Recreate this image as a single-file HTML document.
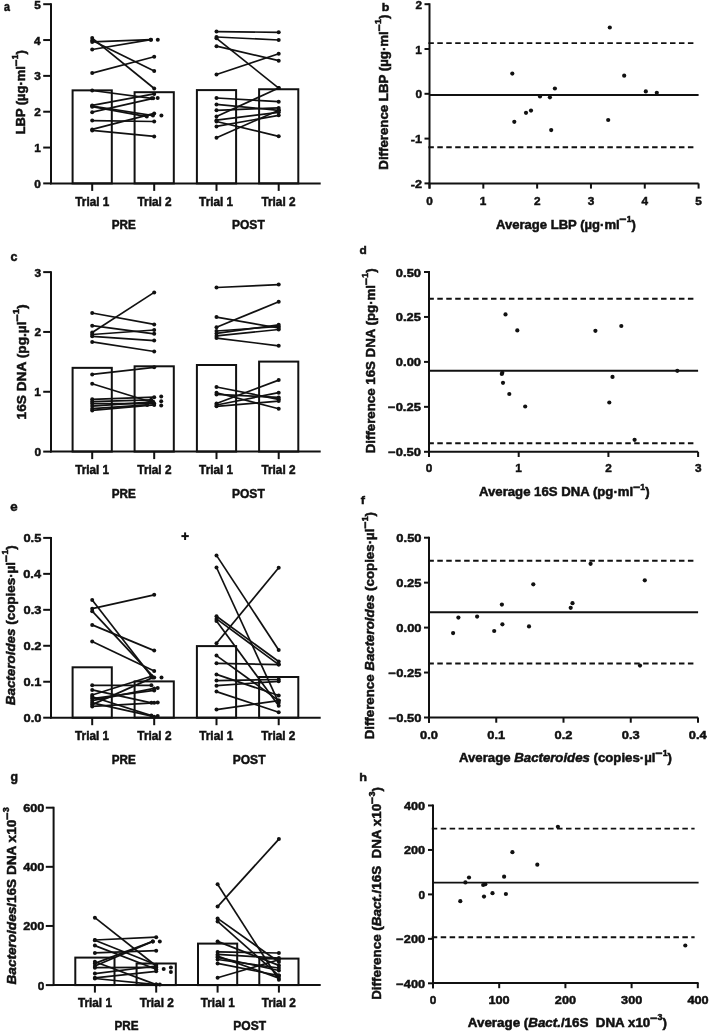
<!DOCTYPE html>
<html><head><meta charset="utf-8"><style>
html,body{margin:0;padding:0;background:#fff;}
body{width:709px;height:1031px;overflow:hidden;}
svg{display:block;filter:blur(0.35px);}
text{font-family:"Liberation Sans",sans-serif;font-weight:bold;}
</style></head><body>
<svg width="709" height="1031" viewBox="0 0 709 1031">
<rect width="709" height="1031" fill="#fff"/>
<g stroke="#111" fill="#111" stroke-linecap="butt">
<line x1="51.00" y1="3.30" x2="51.00" y2="184.30" stroke-width="2.0" />
<line x1="50.10" y1="183.40" x2="320.70" y2="183.40" stroke-width="2.0" />
<line x1="43.20" y1="183.40" x2="51.00" y2="183.40" stroke-width="2.0" />
<text x="34.32" y="187.90" textLength="6.56" lengthAdjust="spacingAndGlyphs" stroke-width="0.5" ><tspan font-size="11.8">0</tspan></text>
<line x1="43.20" y1="147.56" x2="51.00" y2="147.56" stroke-width="2.0" />
<text x="34.17" y="152.06" textLength="6.56" lengthAdjust="spacingAndGlyphs" stroke-width="0.5" ><tspan font-size="11.8">1</tspan></text>
<line x1="43.20" y1="111.72" x2="51.00" y2="111.72" stroke-width="2.0" />
<text x="34.31" y="116.22" textLength="6.56" lengthAdjust="spacingAndGlyphs" stroke-width="0.5" ><tspan font-size="11.8">2</tspan></text>
<line x1="43.20" y1="75.88" x2="51.00" y2="75.88" stroke-width="2.0" />
<text x="34.26" y="80.38" textLength="6.56" lengthAdjust="spacingAndGlyphs" stroke-width="0.5" ><tspan font-size="11.8">3</tspan></text>
<line x1="43.20" y1="40.04" x2="51.00" y2="40.04" stroke-width="2.0" />
<text x="33.90" y="44.54" textLength="6.56" lengthAdjust="spacingAndGlyphs" stroke-width="0.5" ><tspan font-size="11.8">4</tspan></text>
<line x1="43.20" y1="4.20" x2="51.00" y2="4.20" stroke-width="2.0" />
<text x="34.17" y="8.70" textLength="6.56" lengthAdjust="spacingAndGlyphs" stroke-width="0.5" ><tspan font-size="11.8">5</tspan></text>
<rect x="72.60" y="90.35" width="39.2" height="93.05" fill="none" stroke-width="2.0"/>
<rect x="134.60" y="92.20" width="39.2" height="91.20" fill="none" stroke-width="2.0"/>
<rect x="196.90" y="90.10" width="39.2" height="93.30" fill="none" stroke-width="2.0"/>
<rect x="259.10" y="89.25" width="39.2" height="94.15" fill="none" stroke-width="2.0"/>
<line x1="92.20" y1="183.40" x2="92.20" y2="190.90" stroke-width="2.0" />
<line x1="154.20" y1="183.40" x2="154.20" y2="190.90" stroke-width="2.0" />
<line x1="216.50" y1="183.40" x2="216.50" y2="190.90" stroke-width="2.0" />
<line x1="278.70" y1="183.40" x2="278.70" y2="190.90" stroke-width="2.0" />
<line x1="92.20" y1="38.10" x2="154.20" y2="88.50" stroke-width="1.7" />
<line x1="92.20" y1="40.60" x2="154.20" y2="71.00" stroke-width="1.7" />
<line x1="92.20" y1="41.90" x2="150.90" y2="39.70" stroke-width="1.7" />
<line x1="92.20" y1="49.50" x2="150.90" y2="39.70" stroke-width="1.7" />
<line x1="92.20" y1="73.10" x2="154.20" y2="56.70" stroke-width="1.7" />
<line x1="92.20" y1="90.50" x2="151.80" y2="98.30" stroke-width="1.7" />
<line x1="92.20" y1="105.40" x2="154.20" y2="93.90" stroke-width="1.7" />
<line x1="92.20" y1="106.70" x2="146.80" y2="116.60" stroke-width="1.7" />
<line x1="92.20" y1="112.20" x2="153.20" y2="98.30" stroke-width="1.7" />
<line x1="92.20" y1="120.60" x2="154.20" y2="121.50" stroke-width="1.7" />
<line x1="92.20" y1="129.40" x2="154.20" y2="113.40" stroke-width="1.7" />
<line x1="92.20" y1="130.40" x2="154.20" y2="136.40" stroke-width="1.7" />
<line x1="92.20" y1="106.00" x2="153.00" y2="115.60" stroke-width="1.7" />
<circle cx="92.20" cy="38.10" r="2.0" stroke="none"/>
<circle cx="154.20" cy="88.50" r="2.0" stroke="none"/>
<circle cx="92.20" cy="40.60" r="2.0" stroke="none"/>
<circle cx="154.20" cy="71.00" r="2.0" stroke="none"/>
<circle cx="92.20" cy="41.90" r="2.0" stroke="none"/>
<circle cx="150.90" cy="39.70" r="2.0" stroke="none"/>
<circle cx="92.20" cy="49.50" r="2.0" stroke="none"/>
<circle cx="150.90" cy="39.70" r="2.0" stroke="none"/>
<circle cx="92.20" cy="73.10" r="2.0" stroke="none"/>
<circle cx="154.20" cy="56.70" r="2.0" stroke="none"/>
<circle cx="92.20" cy="90.50" r="2.0" stroke="none"/>
<circle cx="151.80" cy="98.30" r="2.0" stroke="none"/>
<circle cx="92.20" cy="105.40" r="2.0" stroke="none"/>
<circle cx="154.20" cy="93.90" r="2.0" stroke="none"/>
<circle cx="92.20" cy="106.70" r="2.0" stroke="none"/>
<circle cx="146.80" cy="116.60" r="2.0" stroke="none"/>
<circle cx="92.20" cy="112.20" r="2.0" stroke="none"/>
<circle cx="153.20" cy="98.30" r="2.0" stroke="none"/>
<circle cx="92.20" cy="120.60" r="2.0" stroke="none"/>
<circle cx="154.20" cy="121.50" r="2.0" stroke="none"/>
<circle cx="92.20" cy="129.40" r="2.0" stroke="none"/>
<circle cx="154.20" cy="113.40" r="2.0" stroke="none"/>
<circle cx="92.20" cy="130.40" r="2.0" stroke="none"/>
<circle cx="154.20" cy="136.40" r="2.0" stroke="none"/>
<circle cx="92.20" cy="106.00" r="2.0" stroke="none"/>
<circle cx="153.00" cy="115.60" r="2.0" stroke="none"/>
<line x1="216.50" y1="31.60" x2="278.70" y2="32.30" stroke-width="1.7" />
<line x1="216.50" y1="37.00" x2="278.70" y2="40.00" stroke-width="1.7" />
<line x1="216.50" y1="38.30" x2="278.70" y2="88.10" stroke-width="1.7" />
<line x1="216.50" y1="46.20" x2="278.70" y2="60.70" stroke-width="1.7" />
<line x1="216.50" y1="74.50" x2="278.70" y2="53.80" stroke-width="1.7" />
<line x1="216.50" y1="98.00" x2="278.70" y2="101.70" stroke-width="1.7" />
<line x1="216.50" y1="104.40" x2="278.70" y2="110.30" stroke-width="1.7" />
<line x1="216.50" y1="110.30" x2="278.70" y2="107.90" stroke-width="1.7" />
<line x1="216.50" y1="116.50" x2="278.70" y2="88.10" stroke-width="1.7" />
<line x1="216.50" y1="120.20" x2="278.70" y2="112.30" stroke-width="1.7" />
<line x1="216.50" y1="121.50" x2="278.70" y2="136.30" stroke-width="1.7" />
<line x1="216.50" y1="126.40" x2="278.70" y2="115.30" stroke-width="1.7" />
<line x1="216.50" y1="137.70" x2="278.70" y2="110.30" stroke-width="1.7" />
<circle cx="216.50" cy="31.60" r="2.0" stroke="none"/>
<circle cx="278.70" cy="32.30" r="2.0" stroke="none"/>
<circle cx="216.50" cy="37.00" r="2.0" stroke="none"/>
<circle cx="278.70" cy="40.00" r="2.0" stroke="none"/>
<circle cx="216.50" cy="38.30" r="2.0" stroke="none"/>
<circle cx="278.70" cy="88.10" r="2.0" stroke="none"/>
<circle cx="216.50" cy="46.20" r="2.0" stroke="none"/>
<circle cx="278.70" cy="60.70" r="2.0" stroke="none"/>
<circle cx="216.50" cy="74.50" r="2.0" stroke="none"/>
<circle cx="278.70" cy="53.80" r="2.0" stroke="none"/>
<circle cx="216.50" cy="98.00" r="2.0" stroke="none"/>
<circle cx="278.70" cy="101.70" r="2.0" stroke="none"/>
<circle cx="216.50" cy="104.40" r="2.0" stroke="none"/>
<circle cx="278.70" cy="110.30" r="2.0" stroke="none"/>
<circle cx="216.50" cy="110.30" r="2.0" stroke="none"/>
<circle cx="278.70" cy="107.90" r="2.0" stroke="none"/>
<circle cx="216.50" cy="116.50" r="2.0" stroke="none"/>
<circle cx="278.70" cy="88.10" r="2.0" stroke="none"/>
<circle cx="216.50" cy="120.20" r="2.0" stroke="none"/>
<circle cx="278.70" cy="112.30" r="2.0" stroke="none"/>
<circle cx="216.50" cy="121.50" r="2.0" stroke="none"/>
<circle cx="278.70" cy="136.30" r="2.0" stroke="none"/>
<circle cx="216.50" cy="126.40" r="2.0" stroke="none"/>
<circle cx="278.70" cy="115.30" r="2.0" stroke="none"/>
<circle cx="216.50" cy="137.70" r="2.0" stroke="none"/>
<circle cx="278.70" cy="110.30" r="2.0" stroke="none"/>
<circle cx="157.80" cy="39.70" r="2.0" stroke="none"/>
<circle cx="157.70" cy="97.90" r="2.0" stroke="none"/>
<circle cx="161.40" cy="115.40" r="2.0" stroke="none"/>
<text x="75.32" y="205.80" textLength="33.95" lengthAdjust="spacingAndGlyphs" stroke-width="0.5" ><tspan font-size="12.3">Trial 1</tspan></text>
<text x="137.52" y="205.80" textLength="34.09" lengthAdjust="spacingAndGlyphs" stroke-width="0.5" ><tspan font-size="12.3">Trial 2</tspan></text>
<text x="199.12" y="205.80" textLength="33.95" lengthAdjust="spacingAndGlyphs" stroke-width="0.5" ><tspan font-size="12.3">Trial 1</tspan></text>
<text x="261.42" y="205.80" textLength="34.09" lengthAdjust="spacingAndGlyphs" stroke-width="0.5" ><tspan font-size="12.3">Trial 2</tspan></text>
<text x="111.72" y="229.40" textLength="24.04" lengthAdjust="spacingAndGlyphs" stroke-width="0.5" ><tspan font-size="12.8">PRE</tspan></text>
<text x="232.00" y="229.40" textLength="32.73" lengthAdjust="spacingAndGlyphs" stroke-width="0.5" ><tspan font-size="12.8">POST</tspan></text>
<text transform="translate(24.90,133.40) rotate(-90)" x="-0.86" y="0" textLength="84.10" lengthAdjust="spacingAndGlyphs" stroke-width="0.5" ><tspan font-size="12.6">LBP (µg·ml</tspan><tspan font-size="11.8" dy="-5.2">−</tspan><tspan font-size="8.4" dy="-1.5">1</tspan><tspan font-size="12.6" dy="6.7">)</tspan></text>
<line x1="51.00" y1="271.21" x2="51.00" y2="452.50" stroke-width="2.0" />
<line x1="50.10" y1="451.60" x2="320.70" y2="451.60" stroke-width="2.0" />
<line x1="43.20" y1="451.60" x2="51.00" y2="451.60" stroke-width="2.0" />
<text x="34.52" y="456.10" textLength="6.56" lengthAdjust="spacingAndGlyphs" stroke-width="0.5" ><tspan font-size="11.8">0</tspan></text>
<line x1="43.20" y1="391.77" x2="51.00" y2="391.77" stroke-width="2.0" />
<text x="34.37" y="396.27" textLength="6.56" lengthAdjust="spacingAndGlyphs" stroke-width="0.5" ><tspan font-size="11.8">1</tspan></text>
<line x1="43.20" y1="331.94" x2="51.00" y2="331.94" stroke-width="2.0" />
<text x="34.51" y="336.44" textLength="6.56" lengthAdjust="spacingAndGlyphs" stroke-width="0.5" ><tspan font-size="11.8">2</tspan></text>
<line x1="43.20" y1="272.11" x2="51.00" y2="272.11" stroke-width="2.0" />
<text x="34.46" y="276.61" textLength="6.56" lengthAdjust="spacingAndGlyphs" stroke-width="0.5" ><tspan font-size="11.8">3</tspan></text>
<rect x="72.60" y="367.85" width="39.2" height="83.75" fill="none" stroke-width="2.0"/>
<rect x="134.60" y="366.30" width="39.2" height="85.30" fill="none" stroke-width="2.0"/>
<rect x="196.90" y="365.00" width="39.2" height="86.60" fill="none" stroke-width="2.0"/>
<rect x="259.10" y="361.60" width="39.2" height="90.00" fill="none" stroke-width="2.0"/>
<line x1="92.20" y1="451.60" x2="92.20" y2="459.10" stroke-width="2.0" />
<line x1="154.20" y1="451.60" x2="154.20" y2="459.10" stroke-width="2.0" />
<line x1="216.50" y1="451.60" x2="216.50" y2="459.10" stroke-width="2.0" />
<line x1="278.70" y1="451.60" x2="278.70" y2="459.10" stroke-width="2.0" />
<line x1="92.20" y1="313.00" x2="154.20" y2="324.40" stroke-width="1.7" />
<line x1="92.20" y1="325.70" x2="154.20" y2="333.80" stroke-width="1.7" />
<line x1="92.20" y1="332.50" x2="154.20" y2="292.40" stroke-width="1.7" />
<line x1="92.20" y1="334.50" x2="154.20" y2="330.00" stroke-width="1.7" />
<line x1="92.20" y1="336.30" x2="154.20" y2="340.60" stroke-width="1.7" />
<line x1="92.20" y1="341.90" x2="154.20" y2="351.50" stroke-width="1.7" />
<line x1="92.20" y1="374.40" x2="154.20" y2="367.30" stroke-width="1.7" />
<line x1="92.20" y1="383.80" x2="150.20" y2="401.80" stroke-width="1.7" />
<line x1="92.20" y1="399.30" x2="154.20" y2="397.20" stroke-width="1.7" />
<line x1="92.20" y1="401.60" x2="151.20" y2="399.80" stroke-width="1.7" />
<line x1="92.20" y1="403.60" x2="154.20" y2="403.60" stroke-width="1.7" />
<line x1="92.20" y1="406.10" x2="153.20" y2="401.80" stroke-width="1.7" />
<line x1="92.20" y1="408.70" x2="147.20" y2="404.90" stroke-width="1.7" />
<line x1="92.20" y1="410.40" x2="154.20" y2="404.90" stroke-width="1.7" />
<circle cx="92.20" cy="313.00" r="2.0" stroke="none"/>
<circle cx="154.20" cy="324.40" r="2.0" stroke="none"/>
<circle cx="92.20" cy="325.70" r="2.0" stroke="none"/>
<circle cx="154.20" cy="333.80" r="2.0" stroke="none"/>
<circle cx="92.20" cy="332.50" r="2.0" stroke="none"/>
<circle cx="154.20" cy="292.40" r="2.0" stroke="none"/>
<circle cx="92.20" cy="334.50" r="2.0" stroke="none"/>
<circle cx="154.20" cy="330.00" r="2.0" stroke="none"/>
<circle cx="92.20" cy="336.30" r="2.0" stroke="none"/>
<circle cx="154.20" cy="340.60" r="2.0" stroke="none"/>
<circle cx="92.20" cy="341.90" r="2.0" stroke="none"/>
<circle cx="154.20" cy="351.50" r="2.0" stroke="none"/>
<circle cx="92.20" cy="374.40" r="2.0" stroke="none"/>
<circle cx="154.20" cy="367.30" r="2.0" stroke="none"/>
<circle cx="92.20" cy="383.80" r="2.0" stroke="none"/>
<circle cx="150.20" cy="401.80" r="2.0" stroke="none"/>
<circle cx="92.20" cy="399.30" r="2.0" stroke="none"/>
<circle cx="154.20" cy="397.20" r="2.0" stroke="none"/>
<circle cx="92.20" cy="401.60" r="2.0" stroke="none"/>
<circle cx="151.20" cy="399.80" r="2.0" stroke="none"/>
<circle cx="92.20" cy="403.60" r="2.0" stroke="none"/>
<circle cx="154.20" cy="403.60" r="2.0" stroke="none"/>
<circle cx="92.20" cy="406.10" r="2.0" stroke="none"/>
<circle cx="153.20" cy="401.80" r="2.0" stroke="none"/>
<circle cx="92.20" cy="408.70" r="2.0" stroke="none"/>
<circle cx="147.20" cy="404.90" r="2.0" stroke="none"/>
<circle cx="92.20" cy="410.40" r="2.0" stroke="none"/>
<circle cx="154.20" cy="404.90" r="2.0" stroke="none"/>
<line x1="216.50" y1="287.50" x2="278.70" y2="284.60" stroke-width="1.7" />
<line x1="216.50" y1="317.10" x2="278.70" y2="328.00" stroke-width="1.7" />
<line x1="216.50" y1="327.30" x2="278.70" y2="301.80" stroke-width="1.7" />
<line x1="216.50" y1="331.00" x2="278.70" y2="326.50" stroke-width="1.7" />
<line x1="216.50" y1="333.40" x2="278.70" y2="324.80" stroke-width="1.7" />
<line x1="216.50" y1="335.90" x2="278.70" y2="329.50" stroke-width="1.7" />
<line x1="216.50" y1="338.10" x2="278.70" y2="345.80" stroke-width="1.7" />
<line x1="216.50" y1="387.00" x2="278.70" y2="399.30" stroke-width="1.7" />
<line x1="216.50" y1="392.70" x2="278.70" y2="408.70" stroke-width="1.7" />
<line x1="216.50" y1="394.40" x2="278.70" y2="397.40" stroke-width="1.7" />
<line x1="216.50" y1="403.50" x2="278.70" y2="380.10" stroke-width="1.7" />
<line x1="216.50" y1="405.00" x2="278.70" y2="392.70" stroke-width="1.7" />
<line x1="216.50" y1="406.30" x2="278.70" y2="401.10" stroke-width="1.7" />
<circle cx="216.50" cy="287.50" r="2.0" stroke="none"/>
<circle cx="278.70" cy="284.60" r="2.0" stroke="none"/>
<circle cx="216.50" cy="317.10" r="2.0" stroke="none"/>
<circle cx="278.70" cy="328.00" r="2.0" stroke="none"/>
<circle cx="216.50" cy="327.30" r="2.0" stroke="none"/>
<circle cx="278.70" cy="301.80" r="2.0" stroke="none"/>
<circle cx="216.50" cy="331.00" r="2.0" stroke="none"/>
<circle cx="278.70" cy="326.50" r="2.0" stroke="none"/>
<circle cx="216.50" cy="333.40" r="2.0" stroke="none"/>
<circle cx="278.70" cy="324.80" r="2.0" stroke="none"/>
<circle cx="216.50" cy="335.90" r="2.0" stroke="none"/>
<circle cx="278.70" cy="329.50" r="2.0" stroke="none"/>
<circle cx="216.50" cy="338.10" r="2.0" stroke="none"/>
<circle cx="278.70" cy="345.80" r="2.0" stroke="none"/>
<circle cx="216.50" cy="387.00" r="2.0" stroke="none"/>
<circle cx="278.70" cy="399.30" r="2.0" stroke="none"/>
<circle cx="216.50" cy="392.70" r="2.0" stroke="none"/>
<circle cx="278.70" cy="408.70" r="2.0" stroke="none"/>
<circle cx="216.50" cy="394.40" r="2.0" stroke="none"/>
<circle cx="278.70" cy="397.40" r="2.0" stroke="none"/>
<circle cx="216.50" cy="403.50" r="2.0" stroke="none"/>
<circle cx="278.70" cy="380.10" r="2.0" stroke="none"/>
<circle cx="216.50" cy="405.00" r="2.0" stroke="none"/>
<circle cx="278.70" cy="392.70" r="2.0" stroke="none"/>
<circle cx="216.50" cy="406.30" r="2.0" stroke="none"/>
<circle cx="278.70" cy="401.10" r="2.0" stroke="none"/>
<circle cx="161.20" cy="396.50" r="2.0" stroke="none"/>
<circle cx="161.20" cy="401.20" r="2.0" stroke="none"/>
<circle cx="161.20" cy="405.40" r="2.0" stroke="none"/>
<text x="75.17" y="474.20" textLength="33.95" lengthAdjust="spacingAndGlyphs" stroke-width="0.5" ><tspan font-size="12.3">Trial 1</tspan></text>
<text x="137.37" y="474.20" textLength="34.09" lengthAdjust="spacingAndGlyphs" stroke-width="0.5" ><tspan font-size="12.3">Trial 2</tspan></text>
<text x="199.12" y="474.20" textLength="33.95" lengthAdjust="spacingAndGlyphs" stroke-width="0.5" ><tspan font-size="12.3">Trial 1</tspan></text>
<text x="261.42" y="474.20" textLength="34.09" lengthAdjust="spacingAndGlyphs" stroke-width="0.5" ><tspan font-size="12.3">Trial 2</tspan></text>
<text x="111.72" y="497.70" textLength="24.04" lengthAdjust="spacingAndGlyphs" stroke-width="0.5" ><tspan font-size="12.8">PRE</tspan></text>
<text x="232.00" y="497.70" textLength="32.73" lengthAdjust="spacingAndGlyphs" stroke-width="0.5" ><tspan font-size="12.8">POST</tspan></text>
<text transform="translate(25.80,418.60) rotate(-90)" x="-0.86" y="0" textLength="115.14" lengthAdjust="spacingAndGlyphs" stroke-width="0.5" ><tspan font-size="12.6">16S DNA (pg.µl</tspan><tspan font-size="11.8" dy="-5.2">−</tspan><tspan font-size="8.4" dy="-1.5">1</tspan><tspan font-size="12.6" dy="6.7">)</tspan></text>
<line x1="51.00" y1="537.00" x2="51.00" y2="718.60" stroke-width="2.0" />
<line x1="50.10" y1="717.70" x2="320.70" y2="717.70" stroke-width="2.0" />
<line x1="43.20" y1="717.70" x2="51.00" y2="717.70" stroke-width="2.0" />
<text x="23.64" y="722.20" textLength="17.89" lengthAdjust="spacingAndGlyphs" stroke-width="0.5" ><tspan font-size="11.8">0.0</tspan></text>
<line x1="43.20" y1="681.74" x2="51.00" y2="681.74" stroke-width="2.0" />
<text x="23.48" y="686.24" textLength="17.87" lengthAdjust="spacingAndGlyphs" stroke-width="0.5" ><tspan font-size="11.8">0.1</tspan></text>
<line x1="43.20" y1="645.78" x2="51.00" y2="645.78" stroke-width="2.0" />
<text x="23.63" y="650.28" textLength="17.89" lengthAdjust="spacingAndGlyphs" stroke-width="0.5" ><tspan font-size="11.8">0.2</tspan></text>
<line x1="43.20" y1="609.82" x2="51.00" y2="609.82" stroke-width="2.0" />
<text x="23.58" y="614.32" textLength="17.88" lengthAdjust="spacingAndGlyphs" stroke-width="0.5" ><tspan font-size="11.8">0.3</tspan></text>
<line x1="43.20" y1="573.86" x2="51.00" y2="573.86" stroke-width="2.0" />
<text x="23.22" y="578.36" textLength="17.85" lengthAdjust="spacingAndGlyphs" stroke-width="0.5" ><tspan font-size="11.8">0.4</tspan></text>
<line x1="43.20" y1="537.90" x2="51.00" y2="537.90" stroke-width="2.0" />
<text x="23.48" y="542.40" textLength="17.87" lengthAdjust="spacingAndGlyphs" stroke-width="0.5" ><tspan font-size="11.8">0.5</tspan></text>
<rect x="72.60" y="667.30" width="39.2" height="50.40" fill="none" stroke-width="2.0"/>
<rect x="134.60" y="681.40" width="39.2" height="36.30" fill="none" stroke-width="2.0"/>
<rect x="196.90" y="646.10" width="39.2" height="71.60" fill="none" stroke-width="2.0"/>
<rect x="259.10" y="677.00" width="39.2" height="40.70" fill="none" stroke-width="2.0"/>
<line x1="92.20" y1="717.70" x2="92.20" y2="725.20" stroke-width="2.0" />
<line x1="154.20" y1="717.70" x2="154.20" y2="725.20" stroke-width="2.0" />
<line x1="216.50" y1="717.70" x2="216.50" y2="725.20" stroke-width="2.0" />
<line x1="278.70" y1="717.70" x2="278.70" y2="725.20" stroke-width="2.0" />
<line x1="92.20" y1="608.70" x2="154.20" y2="594.80" stroke-width="1.7" />
<line x1="92.20" y1="599.90" x2="151.40" y2="676.30" stroke-width="1.7" />
<line x1="92.20" y1="611.20" x2="154.20" y2="677.60" stroke-width="1.7" />
<line x1="92.20" y1="624.90" x2="154.20" y2="650.60" stroke-width="1.7" />
<line x1="92.20" y1="641.60" x2="154.20" y2="671.10" stroke-width="1.7" />
<line x1="92.20" y1="685.30" x2="151.40" y2="685.30" stroke-width="1.7" />
<line x1="92.20" y1="689.90" x2="151.40" y2="702.80" stroke-width="1.7" />
<line x1="92.20" y1="695.00" x2="151.40" y2="676.30" stroke-width="1.7" />
<line x1="92.20" y1="696.80" x2="151.40" y2="715.60" stroke-width="1.7" />
<line x1="92.20" y1="698.60" x2="154.20" y2="690.40" stroke-width="1.7" />
<line x1="92.20" y1="700.70" x2="154.20" y2="688.40" stroke-width="1.7" />
<line x1="92.20" y1="702.80" x2="154.20" y2="716.70" stroke-width="1.7" />
<line x1="92.20" y1="704.60" x2="152.70" y2="677.60" stroke-width="1.7" />
<line x1="92.20" y1="706.40" x2="154.20" y2="702.80" stroke-width="1.7" />
<circle cx="92.20" cy="608.70" r="2.0" stroke="none"/>
<circle cx="154.20" cy="594.80" r="2.0" stroke="none"/>
<circle cx="92.20" cy="599.90" r="2.0" stroke="none"/>
<circle cx="151.40" cy="676.30" r="2.0" stroke="none"/>
<circle cx="92.20" cy="611.20" r="2.0" stroke="none"/>
<circle cx="154.20" cy="677.60" r="2.0" stroke="none"/>
<circle cx="92.20" cy="624.90" r="2.0" stroke="none"/>
<circle cx="154.20" cy="650.60" r="2.0" stroke="none"/>
<circle cx="92.20" cy="641.60" r="2.0" stroke="none"/>
<circle cx="154.20" cy="671.10" r="2.0" stroke="none"/>
<circle cx="92.20" cy="685.30" r="2.0" stroke="none"/>
<circle cx="151.40" cy="685.30" r="2.0" stroke="none"/>
<circle cx="92.20" cy="689.90" r="2.0" stroke="none"/>
<circle cx="151.40" cy="702.80" r="2.0" stroke="none"/>
<circle cx="92.20" cy="695.00" r="2.0" stroke="none"/>
<circle cx="151.40" cy="676.30" r="2.0" stroke="none"/>
<circle cx="92.20" cy="696.80" r="2.0" stroke="none"/>
<circle cx="151.40" cy="715.60" r="2.0" stroke="none"/>
<circle cx="92.20" cy="698.60" r="2.0" stroke="none"/>
<circle cx="154.20" cy="690.40" r="2.0" stroke="none"/>
<circle cx="92.20" cy="700.70" r="2.0" stroke="none"/>
<circle cx="154.20" cy="688.40" r="2.0" stroke="none"/>
<circle cx="92.20" cy="702.80" r="2.0" stroke="none"/>
<circle cx="154.20" cy="716.70" r="2.0" stroke="none"/>
<circle cx="92.20" cy="704.60" r="2.0" stroke="none"/>
<circle cx="152.70" cy="677.60" r="2.0" stroke="none"/>
<circle cx="92.20" cy="706.40" r="2.0" stroke="none"/>
<circle cx="154.20" cy="702.80" r="2.0" stroke="none"/>
<line x1="216.50" y1="555.40" x2="278.70" y2="650.00" stroke-width="1.7" />
<line x1="216.50" y1="567.50" x2="278.70" y2="702.70" stroke-width="1.7" />
<line x1="216.50" y1="643.30" x2="278.70" y2="567.70" stroke-width="1.7" />
<line x1="216.50" y1="616.30" x2="278.70" y2="661.50" stroke-width="1.7" />
<line x1="216.50" y1="618.90" x2="278.70" y2="664.60" stroke-width="1.7" />
<line x1="216.50" y1="620.90" x2="278.70" y2="705.70" stroke-width="1.7" />
<line x1="216.50" y1="655.60" x2="278.70" y2="700.60" stroke-width="1.7" />
<line x1="216.50" y1="663.30" x2="278.70" y2="664.60" stroke-width="1.7" />
<line x1="216.50" y1="674.40" x2="278.70" y2="695.50" stroke-width="1.7" />
<line x1="216.50" y1="680.60" x2="278.70" y2="679.50" stroke-width="1.7" />
<line x1="216.50" y1="685.70" x2="278.70" y2="681.30" stroke-width="1.7" />
<line x1="216.50" y1="691.60" x2="278.70" y2="712.20" stroke-width="1.7" />
<line x1="216.50" y1="709.60" x2="278.70" y2="700.60" stroke-width="1.7" />
<circle cx="216.50" cy="555.40" r="2.0" stroke="none"/>
<circle cx="278.70" cy="650.00" r="2.0" stroke="none"/>
<circle cx="216.50" cy="567.50" r="2.0" stroke="none"/>
<circle cx="278.70" cy="702.70" r="2.0" stroke="none"/>
<circle cx="216.50" cy="643.30" r="2.0" stroke="none"/>
<circle cx="278.70" cy="567.70" r="2.0" stroke="none"/>
<circle cx="216.50" cy="616.30" r="2.0" stroke="none"/>
<circle cx="278.70" cy="661.50" r="2.0" stroke="none"/>
<circle cx="216.50" cy="618.90" r="2.0" stroke="none"/>
<circle cx="278.70" cy="664.60" r="2.0" stroke="none"/>
<circle cx="216.50" cy="620.90" r="2.0" stroke="none"/>
<circle cx="278.70" cy="705.70" r="2.0" stroke="none"/>
<circle cx="216.50" cy="655.60" r="2.0" stroke="none"/>
<circle cx="278.70" cy="700.60" r="2.0" stroke="none"/>
<circle cx="216.50" cy="663.30" r="2.0" stroke="none"/>
<circle cx="278.70" cy="664.60" r="2.0" stroke="none"/>
<circle cx="216.50" cy="674.40" r="2.0" stroke="none"/>
<circle cx="278.70" cy="695.50" r="2.0" stroke="none"/>
<circle cx="216.50" cy="680.60" r="2.0" stroke="none"/>
<circle cx="278.70" cy="679.50" r="2.0" stroke="none"/>
<circle cx="216.50" cy="685.70" r="2.0" stroke="none"/>
<circle cx="278.70" cy="681.30" r="2.0" stroke="none"/>
<circle cx="216.50" cy="691.60" r="2.0" stroke="none"/>
<circle cx="278.70" cy="712.20" r="2.0" stroke="none"/>
<circle cx="216.50" cy="709.60" r="2.0" stroke="none"/>
<circle cx="278.70" cy="700.60" r="2.0" stroke="none"/>
<circle cx="161.50" cy="677.50" r="2.0" stroke="none"/>
<circle cx="157.70" cy="688.10" r="2.0" stroke="none"/>
<circle cx="157.70" cy="702.50" r="2.0" stroke="none"/>
<circle cx="157.70" cy="716.10" r="2.0" stroke="none"/>
<text x="75.07" y="739.80" textLength="33.95" lengthAdjust="spacingAndGlyphs" stroke-width="0.5" ><tspan font-size="12.3">Trial 1</tspan></text>
<text x="137.37" y="739.80" textLength="34.09" lengthAdjust="spacingAndGlyphs" stroke-width="0.5" ><tspan font-size="12.3">Trial 2</tspan></text>
<text x="199.27" y="739.80" textLength="33.95" lengthAdjust="spacingAndGlyphs" stroke-width="0.5" ><tspan font-size="12.3">Trial 1</tspan></text>
<text x="261.27" y="739.80" textLength="34.09" lengthAdjust="spacingAndGlyphs" stroke-width="0.5" ><tspan font-size="12.3">Trial 2</tspan></text>
<text x="111.77" y="763.60" textLength="24.04" lengthAdjust="spacingAndGlyphs" stroke-width="0.5" ><tspan font-size="12.8">PRE</tspan></text>
<text x="232.75" y="763.60" textLength="32.73" lengthAdjust="spacingAndGlyphs" stroke-width="0.5" ><tspan font-size="12.8">POST</tspan></text>
<text transform="translate(14.70,705.00) rotate(-90)" x="-0.24" y="0" textLength="160.10" lengthAdjust="spacingAndGlyphs" stroke-width="0.5" ><tspan font-size="12.6" font-style="italic">Bacteroides</tspan><tspan font-size="12.6"> (copies·µl</tspan><tspan font-size="11.8" dy="-5.2">−</tspan><tspan font-size="8.4" dy="-1.5">1</tspan><tspan font-size="12.6" dy="6.7">)</tspan></text>
<line x1="181.40" y1="536.10" x2="188.80" y2="536.10" stroke-width="2.0" />
<line x1="185.10" y1="532.40" x2="185.10" y2="540.00" stroke-width="2.0" />
<line x1="53.60" y1="806.78" x2="53.60" y2="986.00" stroke-width="2.0" />
<line x1="52.70" y1="985.10" x2="320.70" y2="985.10" stroke-width="2.0" />
<line x1="45.80" y1="985.10" x2="53.60" y2="985.10" stroke-width="2.0" />
<text x="37.72" y="989.60" textLength="6.56" lengthAdjust="spacingAndGlyphs" stroke-width="0.5" ><tspan font-size="11.8">0</tspan></text>
<line x1="45.80" y1="925.96" x2="53.60" y2="925.96" stroke-width="2.0" />
<text x="23.17" y="930.46" textLength="21.15" lengthAdjust="spacingAndGlyphs" stroke-width="0.5" ><tspan font-size="11.8">200</tspan></text>
<line x1="45.80" y1="866.82" x2="53.60" y2="866.82" stroke-width="2.0" />
<text x="23.18" y="871.32" textLength="21.14" lengthAdjust="spacingAndGlyphs" stroke-width="0.5" ><tspan font-size="11.8">400</tspan></text>
<line x1="45.80" y1="807.68" x2="53.60" y2="807.68" stroke-width="2.0" />
<text x="23.16" y="812.18" textLength="21.16" lengthAdjust="spacingAndGlyphs" stroke-width="0.5" ><tspan font-size="11.8">600</tspan></text>
<rect x="75.30" y="957.60" width="39.2" height="27.50" fill="none" stroke-width="2.0"/>
<rect x="136.60" y="963.50" width="39.2" height="21.60" fill="none" stroke-width="2.0"/>
<rect x="198.00" y="943.60" width="39.2" height="41.50" fill="none" stroke-width="2.0"/>
<rect x="259.30" y="958.60" width="39.2" height="26.50" fill="none" stroke-width="2.0"/>
<line x1="94.90" y1="985.10" x2="94.90" y2="992.60" stroke-width="2.0" />
<line x1="156.20" y1="985.10" x2="156.20" y2="992.60" stroke-width="2.0" />
<line x1="217.60" y1="985.10" x2="217.60" y2="992.60" stroke-width="2.0" />
<line x1="278.90" y1="985.10" x2="278.90" y2="992.60" stroke-width="2.0" />
<line x1="94.90" y1="917.70" x2="156.20" y2="966.00" stroke-width="1.7" />
<line x1="94.90" y1="940.00" x2="156.20" y2="937.20" stroke-width="1.7" />
<line x1="94.90" y1="940.30" x2="156.20" y2="964.80" stroke-width="1.7" />
<line x1="94.90" y1="945.60" x2="156.20" y2="969.20" stroke-width="1.7" />
<line x1="94.90" y1="952.90" x2="156.20" y2="950.70" stroke-width="1.7" />
<line x1="94.90" y1="961.70" x2="156.20" y2="984.60" stroke-width="1.7" />
<line x1="94.90" y1="963.40" x2="152.80" y2="941.40" stroke-width="1.7" />
<line x1="94.90" y1="966.00" x2="152.80" y2="941.40" stroke-width="1.7" />
<line x1="94.90" y1="967.70" x2="156.20" y2="967.40" stroke-width="1.7" />
<line x1="94.90" y1="973.60" x2="156.20" y2="966.00" stroke-width="1.7" />
<line x1="94.90" y1="977.80" x2="156.20" y2="971.30" stroke-width="1.7" />
<line x1="94.90" y1="978.50" x2="156.20" y2="984.60" stroke-width="1.7" />
<circle cx="94.90" cy="917.70" r="2.0" stroke="none"/>
<circle cx="156.20" cy="966.00" r="2.0" stroke="none"/>
<circle cx="94.90" cy="940.00" r="2.0" stroke="none"/>
<circle cx="156.20" cy="937.20" r="2.0" stroke="none"/>
<circle cx="94.90" cy="940.30" r="2.0" stroke="none"/>
<circle cx="156.20" cy="964.80" r="2.0" stroke="none"/>
<circle cx="94.90" cy="945.60" r="2.0" stroke="none"/>
<circle cx="156.20" cy="969.20" r="2.0" stroke="none"/>
<circle cx="94.90" cy="952.90" r="2.0" stroke="none"/>
<circle cx="156.20" cy="950.70" r="2.0" stroke="none"/>
<circle cx="94.90" cy="961.70" r="2.0" stroke="none"/>
<circle cx="156.20" cy="984.60" r="2.0" stroke="none"/>
<circle cx="94.90" cy="963.40" r="2.0" stroke="none"/>
<circle cx="152.80" cy="941.40" r="2.0" stroke="none"/>
<circle cx="94.90" cy="966.00" r="2.0" stroke="none"/>
<circle cx="152.80" cy="941.40" r="2.0" stroke="none"/>
<circle cx="94.90" cy="967.70" r="2.0" stroke="none"/>
<circle cx="156.20" cy="967.40" r="2.0" stroke="none"/>
<circle cx="94.90" cy="973.60" r="2.0" stroke="none"/>
<circle cx="156.20" cy="966.00" r="2.0" stroke="none"/>
<circle cx="94.90" cy="977.80" r="2.0" stroke="none"/>
<circle cx="156.20" cy="971.30" r="2.0" stroke="none"/>
<circle cx="94.90" cy="978.50" r="2.0" stroke="none"/>
<circle cx="156.20" cy="984.60" r="2.0" stroke="none"/>
<line x1="217.60" y1="906.60" x2="278.90" y2="839.10" stroke-width="1.7" />
<line x1="217.60" y1="884.20" x2="278.90" y2="979.80" stroke-width="1.7" />
<line x1="217.60" y1="918.40" x2="278.90" y2="962.00" stroke-width="1.7" />
<line x1="217.60" y1="921.40" x2="278.90" y2="975.60" stroke-width="1.7" />
<line x1="217.60" y1="941.40" x2="278.90" y2="965.40" stroke-width="1.7" />
<line x1="217.60" y1="951.90" x2="278.90" y2="953.00" stroke-width="1.7" />
<line x1="217.60" y1="954.40" x2="278.90" y2="958.10" stroke-width="1.7" />
<line x1="217.60" y1="956.10" x2="278.90" y2="978.10" stroke-width="1.7" />
<line x1="217.60" y1="957.30" x2="278.90" y2="970.50" stroke-width="1.7" />
<line x1="217.60" y1="959.50" x2="278.90" y2="968.00" stroke-width="1.7" />
<line x1="217.60" y1="963.40" x2="278.90" y2="975.60" stroke-width="1.7" />
<line x1="217.60" y1="977.80" x2="278.90" y2="959.80" stroke-width="1.7" />
<circle cx="217.60" cy="906.60" r="2.0" stroke="none"/>
<circle cx="278.90" cy="839.10" r="2.0" stroke="none"/>
<circle cx="217.60" cy="884.20" r="2.0" stroke="none"/>
<circle cx="278.90" cy="979.80" r="2.0" stroke="none"/>
<circle cx="217.60" cy="918.40" r="2.0" stroke="none"/>
<circle cx="278.90" cy="962.00" r="2.0" stroke="none"/>
<circle cx="217.60" cy="921.40" r="2.0" stroke="none"/>
<circle cx="278.90" cy="975.60" r="2.0" stroke="none"/>
<circle cx="217.60" cy="941.40" r="2.0" stroke="none"/>
<circle cx="278.90" cy="965.40" r="2.0" stroke="none"/>
<circle cx="217.60" cy="951.90" r="2.0" stroke="none"/>
<circle cx="278.90" cy="953.00" r="2.0" stroke="none"/>
<circle cx="217.60" cy="954.40" r="2.0" stroke="none"/>
<circle cx="278.90" cy="958.10" r="2.0" stroke="none"/>
<circle cx="217.60" cy="956.10" r="2.0" stroke="none"/>
<circle cx="278.90" cy="978.10" r="2.0" stroke="none"/>
<circle cx="217.60" cy="957.30" r="2.0" stroke="none"/>
<circle cx="278.90" cy="970.50" r="2.0" stroke="none"/>
<circle cx="217.60" cy="959.50" r="2.0" stroke="none"/>
<circle cx="278.90" cy="968.00" r="2.0" stroke="none"/>
<circle cx="217.60" cy="963.40" r="2.0" stroke="none"/>
<circle cx="278.90" cy="975.60" r="2.0" stroke="none"/>
<circle cx="217.60" cy="977.80" r="2.0" stroke="none"/>
<circle cx="278.90" cy="959.80" r="2.0" stroke="none"/>
<circle cx="159.80" cy="941.40" r="2.0" stroke="none"/>
<circle cx="163.70" cy="969.00" r="2.0" stroke="none"/>
<circle cx="170.90" cy="967.50" r="2.0" stroke="none"/>
<circle cx="170.90" cy="972.00" r="2.0" stroke="none"/>
<circle cx="159.80" cy="984.60" r="2.0" stroke="none"/>
<text x="77.97" y="1007.40" textLength="33.95" lengthAdjust="spacingAndGlyphs" stroke-width="0.5" ><tspan font-size="12.3">Trial 1</tspan></text>
<text x="139.67" y="1007.40" textLength="34.09" lengthAdjust="spacingAndGlyphs" stroke-width="0.5" ><tspan font-size="12.3">Trial 2</tspan></text>
<text x="200.77" y="1007.40" textLength="33.95" lengthAdjust="spacingAndGlyphs" stroke-width="0.5" ><tspan font-size="12.3">Trial 1</tspan></text>
<text x="261.67" y="1007.40" textLength="34.09" lengthAdjust="spacingAndGlyphs" stroke-width="0.5" ><tspan font-size="12.3">Trial 2</tspan></text>
<text x="114.42" y="1030.10" textLength="24.04" lengthAdjust="spacingAndGlyphs" stroke-width="0.5" ><tspan font-size="12.8">PRE</tspan></text>
<text x="233.30" y="1030.10" textLength="32.73" lengthAdjust="spacingAndGlyphs" stroke-width="0.5" ><tspan font-size="12.8">POST</tspan></text>
<text transform="translate(15.90,984.20) rotate(-90)" x="-0.24" y="0" textLength="177.16" lengthAdjust="spacingAndGlyphs" stroke-width="0.5" ><tspan font-size="12.6" font-style="italic">Bacteroides</tspan><tspan font-size="12.6">/16S DNA x10</tspan><tspan font-size="11.8" dy="-5.2">−</tspan><tspan font-size="8.4" dy="-1.5">3</tspan></text>
<line x1="429.50" y1="3.30" x2="429.50" y2="188.60" stroke-width="2.0" />
<line x1="428.60" y1="183.40" x2="698.60" y2="183.40" stroke-width="2.0" />
<line x1="424.50" y1="4.20" x2="429.50" y2="4.20" stroke-width="2.0" />
<text x="415.51" y="8.70" textLength="6.56" lengthAdjust="spacingAndGlyphs" stroke-width="0.5" ><tspan font-size="11.8">2</tspan></text>
<line x1="424.50" y1="49.00" x2="429.50" y2="49.00" stroke-width="2.0" />
<text x="415.37" y="53.50" textLength="6.56" lengthAdjust="spacingAndGlyphs" stroke-width="0.5" ><tspan font-size="11.8">1</tspan></text>
<line x1="424.50" y1="93.80" x2="429.50" y2="93.80" stroke-width="2.0" />
<text x="415.52" y="98.30" textLength="6.56" lengthAdjust="spacingAndGlyphs" stroke-width="0.5" ><tspan font-size="11.8">0</tspan></text>
<line x1="424.50" y1="138.60" x2="429.50" y2="138.60" stroke-width="2.0" />
<text x="410.70" y="143.10" textLength="11.25" lengthAdjust="spacingAndGlyphs" stroke-width="0.5" ><tspan font-size="11.8">-1</tspan></text>
<line x1="424.50" y1="183.40" x2="429.50" y2="183.40" stroke-width="2.0" />
<text x="410.85" y="187.90" textLength="11.26" lengthAdjust="spacingAndGlyphs" stroke-width="0.5" ><tspan font-size="11.8">-2</tspan></text>
<line x1="429.50" y1="183.40" x2="429.50" y2="188.60" stroke-width="2.0" />
<text x="426.23" y="205.00" textLength="6.56" lengthAdjust="spacingAndGlyphs" stroke-width="0.5" ><tspan font-size="11.8">0</tspan></text>
<line x1="483.32" y1="183.40" x2="483.32" y2="188.60" stroke-width="2.0" />
<text x="479.83" y="205.00" textLength="6.56" lengthAdjust="spacingAndGlyphs" stroke-width="0.5" ><tspan font-size="11.8">1</tspan></text>
<line x1="537.14" y1="183.40" x2="537.14" y2="188.60" stroke-width="2.0" />
<text x="533.89" y="205.00" textLength="6.56" lengthAdjust="spacingAndGlyphs" stroke-width="0.5" ><tspan font-size="11.8">2</tspan></text>
<line x1="590.96" y1="183.40" x2="590.96" y2="188.60" stroke-width="2.0" />
<text x="587.76" y="205.00" textLength="6.56" lengthAdjust="spacingAndGlyphs" stroke-width="0.5" ><tspan font-size="11.8">3</tspan></text>
<line x1="644.78" y1="183.40" x2="644.78" y2="188.60" stroke-width="2.0" />
<text x="641.44" y="205.00" textLength="6.56" lengthAdjust="spacingAndGlyphs" stroke-width="0.5" ><tspan font-size="11.8">4</tspan></text>
<line x1="698.60" y1="183.40" x2="698.60" y2="188.60" stroke-width="2.0" />
<text x="695.30" y="205.00" textLength="6.56" lengthAdjust="spacingAndGlyphs" stroke-width="0.5" ><tspan font-size="11.8">5</tspan></text>
<line x1="428.35" y1="43.10" x2="694.60" y2="43.10" stroke-width="1.9" stroke-dasharray="5.5 3.45"/>
<line x1="428.35" y1="147.30" x2="694.60" y2="147.30" stroke-width="1.9" stroke-dasharray="5.5 3.45"/>
<line x1="429.50" y1="95.00" x2="698.60" y2="95.00" stroke-width="1.9" />
<circle cx="512.30" cy="73.60" r="2.1" stroke="none"/>
<circle cx="514.30" cy="121.80" r="2.1" stroke="none"/>
<circle cx="526.00" cy="112.80" r="2.1" stroke="none"/>
<circle cx="531.00" cy="110.60" r="2.1" stroke="none"/>
<circle cx="540.00" cy="96.50" r="2.1" stroke="none"/>
<circle cx="549.90" cy="97.30" r="2.1" stroke="none"/>
<circle cx="554.90" cy="88.50" r="2.1" stroke="none"/>
<circle cx="551.20" cy="130.10" r="2.1" stroke="none"/>
<circle cx="608.20" cy="120.00" r="2.1" stroke="none"/>
<circle cx="609.80" cy="27.50" r="2.1" stroke="none"/>
<circle cx="624.20" cy="75.70" r="2.1" stroke="none"/>
<circle cx="645.80" cy="91.40" r="2.1" stroke="none"/>
<circle cx="656.80" cy="92.80" r="2.1" stroke="none"/>
<text transform="translate(387.90,168.80) rotate(-90)" x="-0.89" y="0" textLength="155.04" lengthAdjust="spacingAndGlyphs" stroke-width="0.5" ><tspan font-size="12.6">Difference LBP (µg·ml</tspan><tspan font-size="11.8" dy="-5.2">−</tspan><tspan font-size="8.4" dy="-1.5">1</tspan><tspan font-size="12.6" dy="6.7">)</tspan></text>
<text x="496.08" y="228.60" textLength="139.87" lengthAdjust="spacingAndGlyphs" stroke-width="0.5" ><tspan font-size="12.6">Average LBP (µg·ml</tspan><tspan font-size="11.8" dy="-5.2">−</tspan><tspan font-size="8.4" dy="-1.5">1</tspan><tspan font-size="12.6" dy="6.7">)</tspan></text>
<line x1="429.00" y1="271.10" x2="429.00" y2="457.00" stroke-width="2.0" />
<line x1="428.10" y1="451.80" x2="698.10" y2="451.80" stroke-width="2.0" />
<line x1="424.00" y1="272.00" x2="429.00" y2="272.00" stroke-width="2.0" />
<text x="395.87" y="276.50" textLength="25.16" lengthAdjust="spacingAndGlyphs" stroke-width="0.5" ><tspan font-size="11.8">0.50</tspan></text>
<line x1="424.00" y1="316.95" x2="429.00" y2="316.95" stroke-width="2.0" />
<text x="395.72" y="321.45" textLength="25.14" lengthAdjust="spacingAndGlyphs" stroke-width="0.5" ><tspan font-size="11.8">0.25</tspan></text>
<line x1="424.00" y1="361.90" x2="429.00" y2="361.90" stroke-width="2.0" />
<text x="395.87" y="366.40" textLength="25.16" lengthAdjust="spacingAndGlyphs" stroke-width="0.5" ><tspan font-size="11.8">0.00</tspan></text>
<line x1="424.00" y1="406.85" x2="429.00" y2="406.85" stroke-width="2.0" />
<text x="388.12" y="411.35" textLength="32.74" lengthAdjust="spacingAndGlyphs" stroke-width="0.5" ><tspan font-size="11.8">−0.25</tspan></text>
<line x1="424.00" y1="451.80" x2="429.00" y2="451.80" stroke-width="2.0" />
<text x="388.28" y="456.30" textLength="32.75" lengthAdjust="spacingAndGlyphs" stroke-width="0.5" ><tspan font-size="11.8">−0.50</tspan></text>
<line x1="429.00" y1="451.80" x2="429.00" y2="457.00" stroke-width="2.0" />
<text x="425.73" y="472.00" textLength="6.56" lengthAdjust="spacingAndGlyphs" stroke-width="0.5" ><tspan font-size="11.8">0</tspan></text>
<line x1="518.70" y1="451.80" x2="518.70" y2="457.00" stroke-width="2.0" />
<text x="515.21" y="472.00" textLength="6.56" lengthAdjust="spacingAndGlyphs" stroke-width="0.5" ><tspan font-size="11.8">1</tspan></text>
<line x1="608.40" y1="451.80" x2="608.40" y2="457.00" stroke-width="2.0" />
<text x="605.15" y="472.00" textLength="6.56" lengthAdjust="spacingAndGlyphs" stroke-width="0.5" ><tspan font-size="11.8">2</tspan></text>
<line x1="698.10" y1="451.80" x2="698.10" y2="457.00" stroke-width="2.0" />
<text x="694.90" y="472.00" textLength="6.56" lengthAdjust="spacingAndGlyphs" stroke-width="0.5" ><tspan font-size="11.8">3</tspan></text>
<line x1="428.35" y1="298.70" x2="694.60" y2="298.70" stroke-width="1.9" stroke-dasharray="5.5 3.45"/>
<line x1="428.35" y1="443.20" x2="694.60" y2="443.20" stroke-width="1.9" stroke-dasharray="5.5 3.45"/>
<line x1="429.00" y1="370.70" x2="698.10" y2="370.70" stroke-width="1.9" />
<circle cx="505.50" cy="314.40" r="2.1" stroke="none"/>
<circle cx="517.30" cy="330.40" r="2.1" stroke="none"/>
<circle cx="502.30" cy="372.80" r="2.1" stroke="none"/>
<circle cx="501.80" cy="374.00" r="2.1" stroke="none"/>
<circle cx="503.00" cy="382.80" r="2.1" stroke="none"/>
<circle cx="509.30" cy="394.00" r="2.1" stroke="none"/>
<circle cx="525.20" cy="406.50" r="2.1" stroke="none"/>
<circle cx="595.40" cy="330.80" r="2.1" stroke="none"/>
<circle cx="621.30" cy="326.00" r="2.1" stroke="none"/>
<circle cx="612.50" cy="376.90" r="2.1" stroke="none"/>
<circle cx="609.30" cy="402.50" r="2.1" stroke="none"/>
<circle cx="677.30" cy="370.80" r="2.1" stroke="none"/>
<circle cx="634.60" cy="439.80" r="2.1" stroke="none"/>
<text transform="translate(374.90,452.40) rotate(-90)" x="-0.89" y="0" textLength="184.94" lengthAdjust="spacingAndGlyphs" stroke-width="0.5" ><tspan font-size="12.6">Difference 16S DNA (pg·ml</tspan><tspan font-size="11.8" dy="-5.2">−</tspan><tspan font-size="8.4" dy="-1.5">1</tspan><tspan font-size="12.6" dy="6.7">)</tspan></text>
<text x="478.97" y="496.30" textLength="170.68" lengthAdjust="spacingAndGlyphs" stroke-width="0.5" ><tspan font-size="12.6">Average 16S DNA (pg·ml</tspan><tspan font-size="11.8" dy="-5.2">−</tspan><tspan font-size="8.4" dy="-1.5">1</tspan><tspan font-size="12.6" dy="6.7">)</tspan></text>
<line x1="429.00" y1="536.80" x2="429.00" y2="722.70" stroke-width="2.0" />
<line x1="428.10" y1="717.50" x2="698.10" y2="717.50" stroke-width="2.0" />
<line x1="424.00" y1="537.70" x2="429.00" y2="537.70" stroke-width="2.0" />
<text x="396.37" y="542.20" textLength="25.16" lengthAdjust="spacingAndGlyphs" stroke-width="0.5" ><tspan font-size="11.8">0.50</tspan></text>
<line x1="424.00" y1="582.65" x2="429.00" y2="582.65" stroke-width="2.0" />
<text x="396.22" y="587.15" textLength="25.14" lengthAdjust="spacingAndGlyphs" stroke-width="0.5" ><tspan font-size="11.8">0.25</tspan></text>
<line x1="424.00" y1="627.60" x2="429.00" y2="627.60" stroke-width="2.0" />
<text x="396.37" y="632.10" textLength="25.16" lengthAdjust="spacingAndGlyphs" stroke-width="0.5" ><tspan font-size="11.8">0.00</tspan></text>
<line x1="424.00" y1="672.55" x2="429.00" y2="672.55" stroke-width="2.0" />
<text x="388.62" y="677.05" textLength="32.74" lengthAdjust="spacingAndGlyphs" stroke-width="0.5" ><tspan font-size="11.8">−0.25</tspan></text>
<line x1="424.00" y1="717.50" x2="429.00" y2="717.50" stroke-width="2.0" />
<text x="388.78" y="722.00" textLength="32.75" lengthAdjust="spacingAndGlyphs" stroke-width="0.5" ><tspan font-size="11.8">−0.50</tspan></text>
<line x1="429.00" y1="717.50" x2="429.00" y2="722.70" stroke-width="2.0" />
<text x="420.06" y="738.50" textLength="17.89" lengthAdjust="spacingAndGlyphs" stroke-width="0.5" ><tspan font-size="11.8">0.0</tspan></text>
<line x1="496.25" y1="717.50" x2="496.25" y2="722.70" stroke-width="2.0" />
<text x="487.24" y="738.50" textLength="17.87" lengthAdjust="spacingAndGlyphs" stroke-width="0.5" ><tspan font-size="11.8">0.1</tspan></text>
<line x1="563.50" y1="717.50" x2="563.50" y2="722.70" stroke-width="2.0" />
<text x="554.56" y="738.50" textLength="17.89" lengthAdjust="spacingAndGlyphs" stroke-width="0.5" ><tspan font-size="11.8">0.2</tspan></text>
<line x1="630.75" y1="717.50" x2="630.75" y2="722.70" stroke-width="2.0" />
<text x="621.79" y="738.50" textLength="17.88" lengthAdjust="spacingAndGlyphs" stroke-width="0.5" ><tspan font-size="11.8">0.3</tspan></text>
<line x1="698.00" y1="717.50" x2="698.00" y2="722.70" stroke-width="2.0" />
<text x="688.86" y="738.50" textLength="17.85" lengthAdjust="spacingAndGlyphs" stroke-width="0.5" ><tspan font-size="11.8">0.4</tspan></text>
<line x1="428.35" y1="560.80" x2="694.60" y2="560.80" stroke-width="1.9" stroke-dasharray="5.5 3.45"/>
<line x1="428.35" y1="663.50" x2="694.60" y2="663.50" stroke-width="1.9" stroke-dasharray="5.5 3.45"/>
<line x1="429.00" y1="612.20" x2="698.10" y2="612.20" stroke-width="1.9" />
<circle cx="453.10" cy="633.10" r="2.1" stroke="none"/>
<circle cx="458.40" cy="617.60" r="2.1" stroke="none"/>
<circle cx="477.10" cy="616.60" r="2.1" stroke="none"/>
<circle cx="494.20" cy="631.00" r="2.1" stroke="none"/>
<circle cx="501.90" cy="604.60" r="2.1" stroke="none"/>
<circle cx="502.40" cy="624.30" r="2.1" stroke="none"/>
<circle cx="529.00" cy="626.40" r="2.1" stroke="none"/>
<circle cx="533.30" cy="584.30" r="2.1" stroke="none"/>
<circle cx="590.60" cy="563.80" r="2.1" stroke="none"/>
<circle cx="644.80" cy="580.30" r="2.1" stroke="none"/>
<circle cx="572.50" cy="603.20" r="2.1" stroke="none"/>
<circle cx="570.70" cy="607.80" r="2.1" stroke="none"/>
<circle cx="640.00" cy="665.60" r="2.1" stroke="none"/>
<text transform="translate(374.40,738.50) rotate(-90)" x="-0.89" y="0" textLength="227.45" lengthAdjust="spacingAndGlyphs" stroke-width="0.5" ><tspan font-size="12.6">Difference </tspan><tspan font-size="12.6" font-style="italic">Bacteroides</tspan><tspan font-size="12.6"> (copies·µl</tspan><tspan font-size="11.8" dy="-5.2">−</tspan><tspan font-size="8.4" dy="-1.5">1</tspan><tspan font-size="12.6" dy="6.7">)</tspan></text>
<text x="458.97" y="762.40" textLength="212.98" lengthAdjust="spacingAndGlyphs" stroke-width="0.5" ><tspan font-size="12.6">Average </tspan><tspan font-size="12.6" font-style="italic">Bacteroides</tspan><tspan font-size="12.6"> (copies·µl</tspan><tspan font-size="11.8" dy="-5.2">−</tspan><tspan font-size="8.4" dy="-1.5">1</tspan><tspan font-size="12.6" dy="6.7">)</tspan></text>
<line x1="433.00" y1="804.60" x2="433.00" y2="988.20" stroke-width="2.0" />
<line x1="432.10" y1="983.00" x2="698.60" y2="983.00" stroke-width="2.0" />
<line x1="428.00" y1="805.50" x2="433.00" y2="805.50" stroke-width="2.0" />
<text x="403.98" y="810.00" textLength="21.14" lengthAdjust="spacingAndGlyphs" stroke-width="0.5" ><tspan font-size="11.8">400</tspan></text>
<line x1="428.00" y1="849.95" x2="433.00" y2="849.95" stroke-width="2.0" />
<text x="403.97" y="854.45" textLength="21.15" lengthAdjust="spacingAndGlyphs" stroke-width="0.5" ><tspan font-size="11.8">200</tspan></text>
<line x1="428.00" y1="894.40" x2="433.00" y2="894.40" stroke-width="2.0" />
<text x="418.52" y="898.90" textLength="6.56" lengthAdjust="spacingAndGlyphs" stroke-width="0.5" ><tspan font-size="11.8">0</tspan></text>
<line x1="428.00" y1="938.85" x2="433.00" y2="938.85" stroke-width="2.0" />
<text x="396.37" y="943.35" textLength="28.76" lengthAdjust="spacingAndGlyphs" stroke-width="0.5" ><tspan font-size="11.8">−200</tspan></text>
<line x1="428.00" y1="983.30" x2="433.00" y2="983.30" stroke-width="2.0" />
<text x="396.37" y="987.80" textLength="28.76" lengthAdjust="spacingAndGlyphs" stroke-width="0.5" ><tspan font-size="11.8">−400</tspan></text>
<line x1="433.00" y1="983.00" x2="433.00" y2="988.20" stroke-width="2.0" />
<text x="429.73" y="1004.00" textLength="6.56" lengthAdjust="spacingAndGlyphs" stroke-width="0.5" ><tspan font-size="11.8">0</tspan></text>
<line x1="499.20" y1="983.00" x2="499.20" y2="988.20" stroke-width="2.0" />
<text x="488.47" y="1004.00" textLength="21.18" lengthAdjust="spacingAndGlyphs" stroke-width="0.5" ><tspan font-size="11.8">100</tspan></text>
<line x1="565.40" y1="983.00" x2="565.40" y2="988.20" stroke-width="2.0" />
<text x="554.86" y="1004.00" textLength="21.15" lengthAdjust="spacingAndGlyphs" stroke-width="0.5" ><tspan font-size="11.8">200</tspan></text>
<line x1="631.60" y1="983.00" x2="631.60" y2="988.20" stroke-width="2.0" />
<text x="621.14" y="1004.00" textLength="21.14" lengthAdjust="spacingAndGlyphs" stroke-width="0.5" ><tspan font-size="11.8">300</tspan></text>
<line x1="697.80" y1="983.00" x2="697.80" y2="988.20" stroke-width="2.0" />
<text x="687.40" y="1004.00" textLength="21.14" lengthAdjust="spacingAndGlyphs" stroke-width="0.5" ><tspan font-size="11.8">400</tspan></text>
<line x1="431.75" y1="828.60" x2="694.60" y2="828.60" stroke-width="1.9" stroke-dasharray="5.5 3.45"/>
<line x1="431.75" y1="937.20" x2="694.60" y2="937.20" stroke-width="1.9" stroke-dasharray="5.5 3.45"/>
<line x1="433.00" y1="882.60" x2="698.60" y2="882.60" stroke-width="1.9" />
<circle cx="460.30" cy="901.20" r="2.1" stroke="none"/>
<circle cx="465.40" cy="882.40" r="2.1" stroke="none"/>
<circle cx="469.00" cy="877.50" r="2.1" stroke="none"/>
<circle cx="483.20" cy="885.00" r="2.1" stroke="none"/>
<circle cx="485.30" cy="884.20" r="2.1" stroke="none"/>
<circle cx="484.00" cy="896.60" r="2.1" stroke="none"/>
<circle cx="492.50" cy="893.20" r="2.1" stroke="none"/>
<circle cx="504.10" cy="876.70" r="2.1" stroke="none"/>
<circle cx="505.90" cy="894.00" r="2.1" stroke="none"/>
<circle cx="512.40" cy="852.20" r="2.1" stroke="none"/>
<circle cx="537.30" cy="864.70" r="2.1" stroke="none"/>
<circle cx="557.90" cy="826.80" r="2.1" stroke="none"/>
<circle cx="685.30" cy="945.50" r="2.1" stroke="none"/>
<text transform="translate(381.30,999.00) rotate(-90)" x="-0.89" y="0" textLength="212.76" lengthAdjust="spacingAndGlyphs" stroke-width="0.5" ><tspan font-size="12.6">Difference (</tspan><tspan font-size="12.6" font-style="italic">Bact.</tspan><tspan font-size="12.6">/16S&#160; DNA x10</tspan><tspan font-size="11.8" dy="-5.2">−</tspan><tspan font-size="8.4" dy="-1.5">3</tspan><tspan font-size="12.6" dy="6.7">)</tspan></text>
<text x="467.87" y="1027.20" textLength="199.09" lengthAdjust="spacingAndGlyphs" stroke-width="0.5" ><tspan font-size="12.6">Average (</tspan><tspan font-size="12.6" font-style="italic">Bact.</tspan><tspan font-size="12.6">/16S&#160; DNA x10</tspan><tspan font-size="11.8" dy="-5.2">−</tspan><tspan font-size="8.4" dy="-1.5">3</tspan><tspan font-size="12.6" dy="6.7">)</tspan></text>
<text x="3.89" y="10.60" textLength="5.95" lengthAdjust="spacingAndGlyphs" stroke-width="0.5" ><tspan font-size="12.5">a</tspan></text>
<text x="381.78" y="10.50" textLength="7.64" lengthAdjust="spacingAndGlyphs" stroke-width="0.5" ><tspan font-size="11.8">b</tspan></text>
<text x="10.61" y="261.40" textLength="6.95" lengthAdjust="spacingAndGlyphs" stroke-width="0.5" ><tspan font-size="12.5">c</tspan></text>
<text x="359.51" y="254.20" textLength="7.27" lengthAdjust="spacingAndGlyphs" stroke-width="0.5" ><tspan font-size="11.8">d</tspan></text>
<text x="10.28" y="510.90" textLength="7.37" lengthAdjust="spacingAndGlyphs" stroke-width="0.5" ><tspan font-size="12.5">e</tspan></text>
<text x="360.78" y="503.60" textLength="4.19" lengthAdjust="spacingAndGlyphs" stroke-width="0.5" ><tspan font-size="11.8">f</tspan></text>
<text x="10.49" y="781.30" textLength="7.53" lengthAdjust="spacingAndGlyphs" stroke-width="0.5" ><tspan font-size="12.5">g</tspan></text>
<text x="359.21" y="780.80" textLength="7.78" lengthAdjust="spacingAndGlyphs" stroke-width="0.5" ><tspan font-size="11.8">h</tspan></text>
</g>
</svg>
</body></html>
